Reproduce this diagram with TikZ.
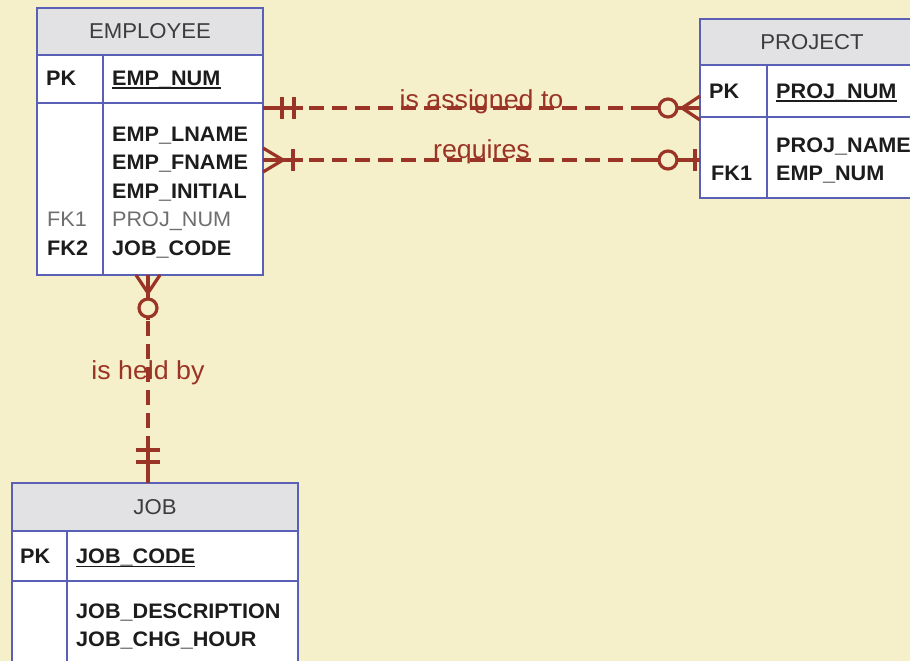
\documentclass[tikz,border=0pt]{standalone}
\usepackage{fontspec}
\setmainfont{Liberation Sans}[FakeStretch=1.03]
\usetikzlibrary{calc}
\definecolor{bg}{HTML}{F6F0CA}
\definecolor{hdr}{HTML}{E2E2E4}
\definecolor{bord}{HTML}{5A60B6}
\definecolor{relc}{HTML}{9A3426}
\definecolor{titlec}{HTML}{3C3C3C}
\definecolor{txtc}{HTML}{1C1C1C}
\definecolor{fkgray}{HTML}{6E6E6E}
\begin{document}
\begin{tikzpicture}[x=1pt,y=-1pt,
  box/.style={draw=bord, line width=2.2pt, fill=white, anchor=north west, inner sep=0pt, outer sep=0pt},
  hbox/.style={box, fill=hdr},
  divider/.style={draw=bord, line width=2.2pt},
  ttl/.style={font=\fontsize{21.5}{24}\selectfont, text=titlec, anchor=base, inner sep=0pt},
  fld/.style={font=\fontsize{21}{24}\selectfont\bfseries, text=txtc, anchor=base west, inner sep=0pt},
  fldgray/.style={font=\fontsize{21}{24}\selectfont, text=fkgray, anchor=base west, inner sep=0pt},
  uline/.style={draw=txtc, line width=1.6pt},
  relline/.style={draw=relc, line width=3.2pt},
  reldash/.style={relline, dash pattern=on 15pt off 8pt},
  rellabel/.style={font=\fontsize{26}{28}\selectfont, text=relc, anchor=base, inner sep=0pt}
]
\useasboundingbox (0,0) rectangle (910,661);
\clip (0,0) rectangle (910,661);
\fill[bg] (0,0) rectangle (910,661);

% ---------------- EMPLOYEE ----------------
\node[hbox, minimum width=226pt, minimum height=47pt] (emph) at (37,8) {};
\node[box, minimum width=226pt, minimum height=48pt] (empk) at (emph.south west) {};
\node[box, minimum width=226pt, minimum height=172pt] (empb) at (empk.south west) {};
\draw[divider] ($(empk.north west)+(66,0)$) -- ($(empb.south west)+(66,0)$);
\node[ttl] (empt) at ($(emph.center)+(0,7.5)$) {EMPLOYEE};
\node[fld] (emppk) at (46,85) {PK};
\node[fld] (empnum) at (112,85) {EMP\_NUM};
\draw[uline] ($(empnum.base west)+(0,3)$) -- ($(empnum.base east)+(0,3)$);
\node[fld] (emplname) at (112,141.5) {EMP\_LNAME};
\node[fld] (empfname) at (112,169.9) {EMP\_FNAME};
\node[fld] (empinit) at (112,198.3) {EMP\_INITIAL};
\node[fldgray] (empfk1) at (47,226.7) {FK1};
\node[fldgray] (empproj) at (112,226.7) {PROJ\_NUM};
\node[fld] (empfk2) at (47,255.1) {FK2};
\node[fld] (empjob) at (112,255.1) {JOB\_CODE};

% ---------------- PROJECT ----------------
\node[hbox, minimum width=224pt, minimum height=46pt] (prjh) at (700,19) {};
\node[box, minimum width=224pt, minimum height=52pt] (prjk) at (prjh.south west) {};
\node[box, minimum width=224pt, minimum height=81pt] (prjb) at (prjk.south west) {};
\draw[divider] ($(prjk.north west)+(67,0)$) -- ($(prjb.south west)+(67,0)$);
\node[ttl] (prjt) at ($(prjh.center)+(0,7.5)$) {PROJECT};
\node[fld] (prjpk) at (709,98) {PK};
\node[fld] (prjnum) at (776,98) {PROJ\_NUM};
\draw[uline] ($(prjnum.base west)+(0,3)$) -- ($(prjnum.base east)+(0,3)$);
\node[fld] (prjname) at (776,152) {PROJ\_NAME};
\node[fld] (prjfk1) at (711,180) {FK1};
\node[fld] (prjemp) at (776,180) {EMP\_NUM};

% ---------------- JOB ----------------
\node[hbox, minimum width=286pt, minimum height=48pt] (jobh) at (12,483) {};
\node[box, minimum width=286pt, minimum height=50pt] (jobk) at (jobh.south west) {};
\node[box, minimum width=286pt, minimum height=130pt] (jobb) at (jobk.south west) {};
\draw[divider] ($(jobk.north west)+(55,0)$) -- ($(jobb.south west)+(55,0)$);
\node[ttl] (jobt) at ($(jobh.center)+(0,7.5)$) {JOB};
\node[fld] (jobpk) at (20,563.5) {PK};
\node[fld] (jobcode) at (76,563.5) {JOB\_CODE};
\draw[uline] ($(jobcode.base west)+(0,3)$) -- ($(jobcode.base east)+(0,3)$);
\node[fld] (jobdesc) at (76,618) {JOB\_DESCRIPTION};
\node[fld] (jobchg) at (76,646) {JOB\_CHG\_HOUR};

% ---------------- is assigned to ----------------
\coordinate (A) at ($(empb.north east)+(0,5)$);
\coordinate (B) at (prjk.west |- A);
\draw[reldash] (A) -- (B);
\draw[relline] (A) -- ($(A)+(40,0)$);
\draw[relline] (B) -- ($(B)+(-58,0)$);
\draw[relline] ($(A)+(19,-11)$) -- ($(A)+(19,11)$);
\draw[relline] ($(A)+(31,-11)$) -- ($(A)+(31,11)$);
\draw[relline] ($(B)+(-18,0)$) -- ($(B)+(0,-12)$);
\draw[relline] ($(B)+(-18,0)$) -- ($(B)+(0,12)$);
\draw[relline, fill=bg] ($(B)+(-32,0)$) circle[radius=9pt];
\node[rellabel] (l1) at ($(A)!0.5!(B)$) {is assigned to};

% ---------------- requires ----------------
\coordinate (C) at (empb.east |- 0,160);
\coordinate (D) at (prjb.west |- C);
\draw[reldash] (C) -- (D);
\draw[relline] (C) -- ($(C)+(40,0)$);
\draw[relline] (D) -- ($(D)+(-58,0)$);
\draw[relline] ($(C)+(20,0)$) -- ($(C)+(0,-12)$);
\draw[relline] ($(C)+(20,0)$) -- ($(C)+(0,12)$);
\draw[relline] ($(C)+(30,-11)$) -- ($(C)+(30,11)$);
\draw[relline] ($(D)+(-5,-11)$) -- ($(D)+(-5,11)$);
\draw[relline, fill=bg] ($(D)+(-32,0)$) circle[radius=9pt];
\node[rellabel] (l2) at ($(C)!0.5!(D)+(0,-2)$) {requires};

% ---------------- is held by ----------------
\coordinate (E) at ($(empb.south west)+(111,0)$);
\coordinate (F) at (E |- jobh.north);
\draw[reldash] (E) -- (F);
\draw[relline] (E) -- ($(E)+(0,45)$);
\draw[relline] (F) -- ($(F)+(0,-45)$);
\draw[relline] ($(E)+(0,18)$) -- ($(E)+(-12,0)$);
\draw[relline] ($(E)+(0,18)$) -- ($(E)+(12,0)$);
\draw[relline, fill=bg] ($(E)+(0,33)$) circle[radius=9pt];
\draw[relline] ($(F)+(-12,-33)$) -- ($(F)+(12,-33)$);
\draw[relline] ($(F)+(-12,-21)$) -- ($(F)+(12,-21)$);
\node[rellabel] (l3) at ($(E)!0.5!(F)$) {is held by};
\end{tikzpicture}
\end{document}
